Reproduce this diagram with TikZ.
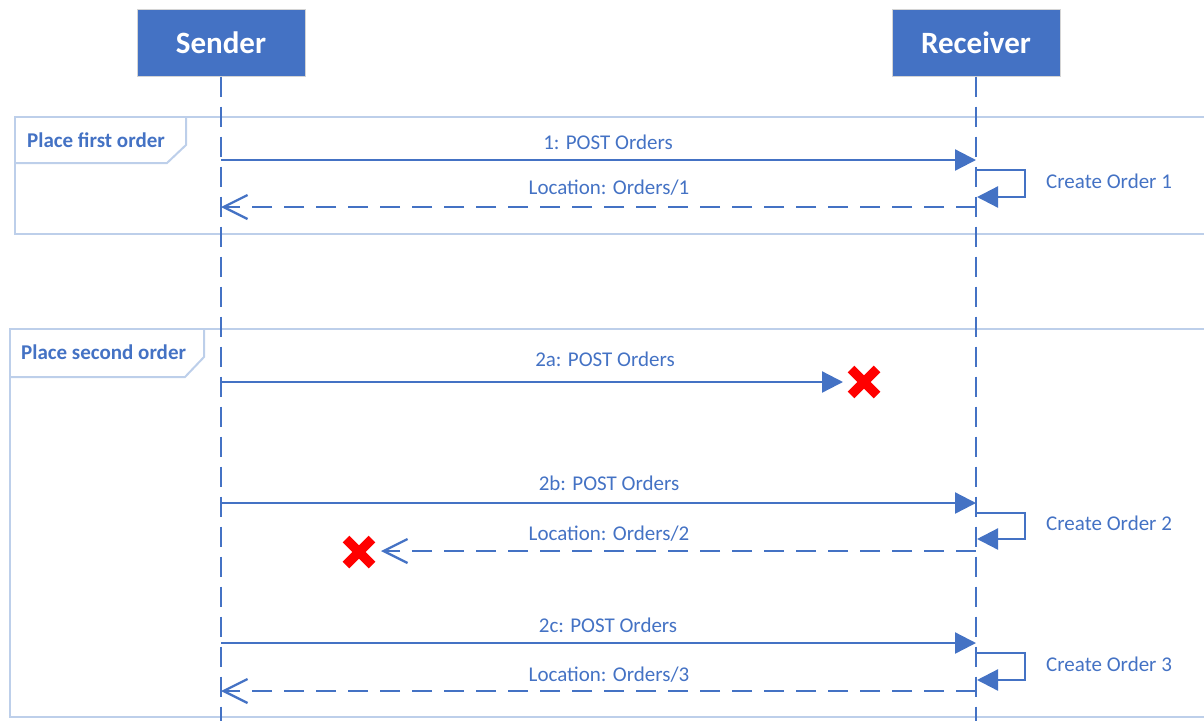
\documentclass[tikz,border=0pt]{standalone}
\usepackage{fontspec}
\setmainfont{Carlito}
\usetikzlibrary{arrows.meta}
\definecolor{uml}{HTML}{4472C4}
\definecolor{frameblue}{HTML}{BDCFEA}
\definecolor{boxborder}{HTML}{D4D4D4}
\begin{document}
\begin{tikzpicture}[x=1pt,y=-1pt,
  actor/.style={draw=boxborder, line width=1pt, fill=uml, text=white, font=\fontsize{31}{36}\selectfont\bfseries, minimum width=168pt, minimum height=67pt, inner sep=0},
  lifeline/.style={draw=uml, line width=2.4pt, dash pattern=on 20pt off 10pt},
  msg/.style={draw=uml, line width=2.3pt, -{Triangle[length=21pt,width=21pt]}},
  reply/.style={draw=uml, line width=2.3pt, dash pattern=on 20pt off 12pt, -{Straight Barb[length=24pt,width=24pt]}},
  lbl/.style={text=uml, font=\fontsize{21}{25}\selectfont, inner sep=0, anchor=base},
  sidelbl/.style={text=uml, font=\fontsize{21}{25}\selectfont, inner sep=0, anchor=base west},
  framelbl/.style={text=uml, font=\fontsize{21}{25}\selectfont\bfseries, inner sep=0, anchor=base west},
  fragment/.style={draw=frameblue, line width=2pt},
  cross/.style={draw=red, line width=9.5pt}
]
\useasboundingbox (0,0) rectangle (1204,721);

% fragments
\draw[fragment] (1204,117) -- (15,117) -- (15,234) -- (1204,234);
\draw[fragment] (15,163) -- (167,163) -- (186,145) -- (186,117);
\node[framelbl] (f1) at (27,147) {Place first order};
\draw[fragment] (1204,329) -- (10,329) -- (10,717) -- (1204,717);
\draw[fragment] (10,377) -- (185,377) -- (204,357) -- (204,329);
\node[framelbl] (f2) at (21,359) {Place second order};

% actors
\node[actor] (sender) at (221,42.5) {Sender};
\node[actor] (receiver) at (976,42.5) {Receiver};
\coordinate (sEnd) at (221,721);
\coordinate (rEnd) at (976,721);
\draw[lifeline] (sender.south) -- (sEnd);
\draw[lifeline] (receiver.south) -- (rEnd);

% order 1
\coordinate (s1) at (221,160); \coordinate (r1) at (976,160);
\draw[msg] (s1) -- (r1);
\node[lbl] (l1) at (608,149) {1: POST Orders};
\coordinate (r1a) at (976,170); \coordinate (r1b) at (977,197);
\draw[msg] (r1a) -- (1025,170) -- (1025,197) -- (r1b);
\node[sidelbl] (c1) at (1046,188) {Create Order 1};
\coordinate (r1r) at (976,207); \coordinate (s1r) at (221,207);
\draw[reply] (r1r) -- (s1r);
\node[lbl] (l1r) at (609,194) {Location: Orders/1};

% 2a
\coordinate (s2a) at (221,382); \coordinate (x2a) at (843,382);
\draw[msg] (s2a) -- (x2a);
\node[lbl] (l2a) at (605,366) {2a: POST Orders};
\draw[cross] (851,369) -- (877,395) (851,395) -- (877,369);

% 2b
\coordinate (s2b) at (221,503); \coordinate (r2b) at (976,503);
\draw[msg] (s2b) -- (r2b);
\node[lbl] (l2b) at (609,490) {2b: POST Orders};
\coordinate (r2ba) at (976,513); \coordinate (r2bb) at (977,539);
\draw[msg] (r2ba) -- (1025,513) -- (1025,539) -- (r2bb);
\node[sidelbl] (c2) at (1046,530) {Create Order 2};
\coordinate (r2r) at (976,551); \coordinate (x2r) at (381,551);
\draw[reply] (r2r) -- (x2r);
\node[lbl] (l2r) at (609,540) {Location: Orders/2};
\draw[cross] (346,539) -- (372,565) (346,565) -- (372,539);

% 2c
\coordinate (s2c) at (221,643); \coordinate (r2c) at (976,643);
\draw[msg] (s2c) -- (r2c);
\node[lbl] (l2c) at (608,632) {2c: POST Orders};
\coordinate (r2ca) at (976,653); \coordinate (r2cb) at (977,680);
\draw[msg] (r2ca) -- (1025,653) -- (1025,680) -- (r2cb);
\node[sidelbl] (c3) at (1046,671) {Create Order 3};
\coordinate (r3r) at (976,691); \coordinate (s3r) at (221,691);
\draw[reply] (r3r) -- (s3r);
\node[lbl] (l3r) at (609,681) {Location: Orders/3};
\end{tikzpicture}
\end{document}
